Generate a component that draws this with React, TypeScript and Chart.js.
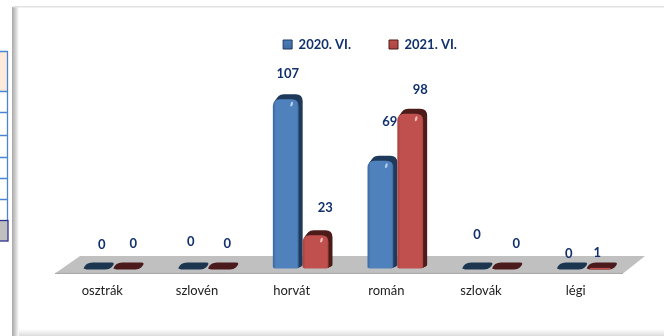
import React, { useEffect, useRef } from "react";
import { Chart, registerables } from "chart.js";

Chart.register(...registerables);

const categories = ["osztrák", "szlovén", "horvát", "román", "szlovák", "légi"];
const series2020 = [0, 0, 107, 69, 0, 0];
const series2021 = [0, 0, 23, 98, 0, 1];
const seriesNames = ["2020. VI.", "2021. VI."];
// label nudges relative to the top-centre of each bar: [dx, dy]
const nudge2020 = [[3.4, -23], [-2.3, -26], [0, -20], [7.4, -34], [0, -33], [-3, -14]];
const nudge2021 = [[5, -24], [4.3, -24], [7.6, -22], [8, -18.5], [9.3, -24], [-4.4, -13]];

const tableRules = [51, 91, 112, 135, 157, 178, 199];
const FONT = "Lato";
const DEPTH_X = 4;
const DEPTH_Y = 5;
const SHIFT = 11;

const palette = [
  { front: "#4f81bd", edge: "#3b679c", dark: "#1f3a5a", hi: "#b5cfee", flat: "#1c3650" },
  { front: "#c0504d", edge: "#a8423f", dark: "#4d1c1a", hi: "#f0bdbb", flat: "#4b1a1c" },
];

function roundedTop(ctx: CanvasRenderingContext2D, x: number, y: number, w: number, b: number, r: number) {
  ctx.beginPath();
  ctx.moveTo(x, b - 1);
  ctx.lineTo(x, y + r);
  ctx.quadraticCurveTo(x, y, x + r, y);
  ctx.lineTo(x + w - r, y);
  ctx.quadraticCurveTo(x + w, y, x + w, y + r);
  ctx.lineTo(x + w, b - 2);
  ctx.quadraticCurveTo(x + w, b, x + w - 3, b);
  ctx.lineTo(x + 2, b);
  ctx.closePath();
}

const panelPlugin = {
  id: "panel",
  beforeDraw(chart: any) {
    const { ctx, width, height, chartArea, scales } = chart;
    ctx.save();
    ctx.fillStyle = "#ffffff";
    ctx.fillRect(0, 0, width, height);
    // table fragment left of the panel
    ctx.fillStyle = "#fdeadb";
    ctx.fillRect(0, 52, 8, 39);
    ctx.fillStyle = "#bfbfbf";
    ctx.fillRect(0, 221, 8, 20);
    ctx.strokeStyle = "#4a86d0";
    ctx.lineWidth = 1.3;
    ctx.beginPath();
    tableRules.forEach((y) => { ctx.moveTo(0, y + 0.5); ctx.lineTo(8, y + 0.5); });
    ctx.moveTo(7.5, 51); ctx.lineTo(7.5, 220);
    ctx.stroke();
    ctx.strokeStyle = "#2d3192";
    ctx.strokeRect(-2, 220.5, 10, 20.5);
    // panel bevel
    const gl = ctx.createLinearGradient(12, 0, 19, 0);
    gl.addColorStop(0, "#a8a8a8");
    gl.addColorStop(0.4, "#c8c8c8");
    gl.addColorStop(1, "#ffffff");
    ctx.fillStyle = gl;
    ctx.fillRect(12, 7, 7, 329);
    ctx.fillStyle = "#e2e2e2";
    ctx.fillRect(13, 6, 651, 1.5);
    const g = ctx.createLinearGradient(0, 329, 0, 336);
    g.addColorStop(0, "#ffffff");
    g.addColorStop(1, "#dcdcdc");
    ctx.fillStyle = g;
    ctx.fillRect(19, 329, 645, 7);
    // floor
    const y0 = scales.y.getPixelForValue(0);
    ctx.fillStyle = "#c0c0c0";
    ctx.beginPath();
    ctx.moveTo(chartArea.left, y0 + 6);
    ctx.lineTo(chartArea.left + 25, y0 - 11.5);
    ctx.lineTo(chartArea.right + 22, y0 - 11.5);
    ctx.lineTo(chartArea.right, y0 + 6);
    ctx.closePath();
    ctx.fill();
    ctx.strokeStyle = "#a3a3a3";
    ctx.lineWidth = 1;
    ctx.beginPath();
    ctx.moveTo(chartArea.left, y0 + 6);
    ctx.lineTo(chartArea.right, y0 + 6);
    ctx.stroke();
    ctx.restore();
  },
};

const barsPlugin = {
  id: "bars3d",
  afterDatasetsDraw(chart: any) {
    const { ctx } = chart;
    const y0 = chart.scales.y.getPixelForValue(0) + 1;
    ctx.save();
    categories.forEach((_, i) => {
      [0, 1].forEach((d) => {
        const el = chart.getDatasetMeta(d).data[i];
        const val = chart.data.datasets[d].data[i] as number;
        const c = palette[d];
        const w = el.width - DEPTH_X;
        const x = el.x - el.width / 2 + SHIFT;
        if (val <= 1) {
          ctx.fillStyle = c.flat;
          ctx.beginPath();
          ctx.moveTo(x, y0);
          ctx.quadraticCurveTo(x + 2, y0 - 6, x + 9, y0 - 6);
          ctx.lineTo(x + w + 2, y0 - 6);
          ctx.quadraticCurveTo(x + w + 7, y0 - 6, x + w + 2, y0 - 1);
          ctx.quadraticCurveTo(x + w, y0 + 1, x + w - 4, y0 + 1);
          ctx.lineTo(x + 3, y0 + 1);
          ctx.closePath();
          ctx.fill();
          if (val > 0) {
            ctx.fillStyle = c.front;
            ctx.fillRect(x + 3, y0 - 0.5, w - 5, 1.5);
          }
          return;
        }
        const top = el.y + DEPTH_Y;
        for (let k = DEPTH_X; k > 0; k--) {
          ctx.fillStyle = c.dark;
          roundedTop(ctx, x + k, top - (k * DEPTH_Y) / DEPTH_X, w, y0 - (k * 2) / DEPTH_X, 7);
          ctx.fill();
        }
        const g = ctx.createLinearGradient(x, 0, x + w, 0);
        g.addColorStop(0, c.edge);
        g.addColorStop(0.12, c.front);
        g.addColorStop(0.92, c.front);
        g.addColorStop(1, c.edge);
        ctx.fillStyle = g;
        roundedTop(ctx, x, top, w, y0, 7);
        ctx.fill();
        ctx.fillStyle = c.hi;
        ctx.beginPath();
        ctx.ellipse(x + w - 7, top + 5, 1.2, 2.5, 0.3, 0, Math.PI * 2);
        ctx.fill();
      });
    });
    ctx.restore();
  },
  afterDraw(chart: any) {
    const { ctx } = chart;
    ctx.save();
    ctx.font = `bold 13px ${FONT}`;
    ctx.fillStyle = "#10306e";
    ctx.textAlign = "center";
    ctx.textBaseline = "middle";
    [nudge2020, nudge2021].forEach((nudge, d) => {
      chart.getDatasetMeta(d).data.forEach((el: any, i: number) => {
        const v = chart.data.datasets[d].data[i];
        ctx.fillText(String(v), el.x + SHIFT + nudge[i][0], el.y + nudge[i][1]);
      });
    });
    ctx.restore();
  },
};

const legendShift = {
  id: "legendShift",
  afterLayout(chart: any) {
    chart.legend.left += 31;
    chart.legend.right += 31;
  },
};

export default function App() {
  const ref = useRef<HTMLCanvasElement>(null);
  useEffect(() => {
    const chart = new Chart(ref.current as HTMLCanvasElement, {
      type: "bar",
      data: {
        labels: categories,
        datasets: [
          { label: seriesNames[0], data: series2020, backgroundColor: "rgba(0,0,0,0)", categoryPercentage: 0.63, barPercentage: 1 },
          { label: seriesNames[1], data: series2021, backgroundColor: "rgba(0,0,0,0)", categoryPercentage: 0.63, barPercentage: 1 },
        ],
      },
      options: {
        responsive: false,
        animation: false,
        layout: { padding: { left: 55, right: 41, top: 0, bottom: 29 } },
        scales: {
          x: {
            grid: { display: false },
            border: { display: false },
            ticks: { color: "#222222", font: { family: FONT, size: 13 }, padding: 8, maxRotation: 0 },
          },
          y: { display: false, min: 0, max: 127.5 },
        },
        plugins: {
          tooltip: { enabled: false },
          legend: {
            position: "top",
            labels: {
              boxWidth: 9,
              boxHeight: 9,
              padding: 38,
              color: "#10306e",
              font: { family: FONT, size: 13, weight: "bold" },
              generateLabels: (c: any) =>
                seriesNames.map((n, i) => {
                  const g = c.ctx.createLinearGradient(0, 38, 0, 52);
                  g.addColorStop(0, palette[i].front);
                  g.addColorStop(1, palette[i].edge);
                  return { text: n, fillStyle: g, strokeStyle: palette[i].dark, lineWidth: 1, datasetIndex: i, fontColor: "#10306e" };
                }),
            },
          },
        },
      },
      plugins: [panelPlugin, barsPlugin, legendShift],
    } as any);
    return () => chart.destroy();
  }, []);
  return <canvas ref={ref} width={664} height={336} style={{ position: "absolute", left: 0, top: 0 }} />;
}
